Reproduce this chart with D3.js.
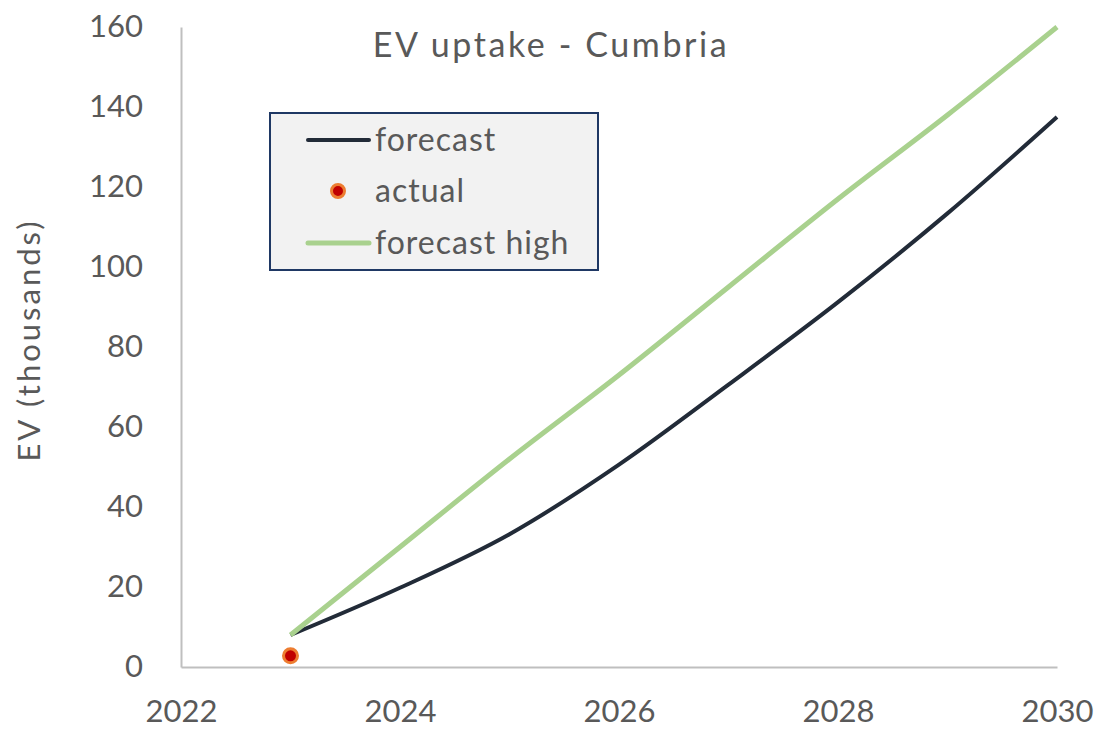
<!DOCTYPE html>
<html><head><meta charset="utf-8">
<script src="https://cdn.jsdelivr.net/npm/d3@7"></script>
<style>body{margin:0;background:#fff}text{font-family:Lato,"Open Sans",sans-serif;fill:#595959}</style>
</head><body><svg id="c" width="1099" height="732"></svg>
<script>
const years = [2023, 2024, 2025, 2026, 2027, 2028, 2029, 2030];
const forecast = [8, 19.8, 33.2, 50.6, 70.6, 91.2, 113.4, 137.5];
const forecastHigh = [8, 30, 52, 73, 95, 117, 138, 160];
const actualYears = [2023];
const actual = [2.8];
const xTicks = [2022, 2024, 2026, 2028, 2030];
const yTicks = [0, 20, 40, 60, 80, 100, 120, 140, 160];

const svg = d3.select("#c");
const x = d3.scaleLinear().domain([2022, 2030]).range([181, 1057]);
const y = d3.scaleLinear().domain([0, 160]).range([667, 27]);

// axes
const xa = svg.append("g").attr("transform", "translate(0,667)")
  .call(d3.axisBottom(x).tickValues(xTicks).tickFormat(d3.format("d")).tickSize(0).tickPadding(33));
xa.select(".domain").attr("stroke", "#bfbfbf").attr("stroke-width", 2);
xa.selectAll("text").style("font-size", "31px").attr("fill", "#595959");

const ya = svg.append("g").attr("transform", "translate(181,0)")
  .call(d3.axisLeft(y).tickValues(yTicks).tickSize(0).tickPadding(38));
ya.select(".domain").attr("stroke", "#bfbfbf").attr("stroke-width", 2);
ya.selectAll("text").style("font-size", "31px").attr("fill", "#595959");

// y title
svg.append("text").attr("transform", "translate(40,340) rotate(-90)")
  .attr("text-anchor", "middle").style("font-size", "31px").style("letter-spacing", "3px").text("EV (thousands)");

// title
svg.append("text").attr("x", 551).attr("y", 57).attr("text-anchor", "middle")
  .style("font-size", "34px").style("letter-spacing", "2.6px").text("EV uptake - Cumbria");

const line = d3.line().x((d, i) => x(years[i])).y(d => y(d)).curve(d3.curveMonotoneX);

svg.append("path").datum(forecast).attr("d", line).attr("fill", "none")
  .attr("stroke", "#222b38").attr("stroke-width", 4);

svg.selectAll(".act").data(actual).enter().append("circle")
  .attr("cx", (d, i) => x(actualYears[i])).attr("cy", d => y(d)).attr("r", 7)
  .attr("fill", "#c00000").attr("stroke", "#ed7d31").attr("stroke-width", 3);

svg.append("path").datum(forecastHigh).attr("d", line).attr("fill", "none")
  .attr("stroke", "#a9d18e").attr("stroke-width", 5);

// legend
const lg = svg.append("g");
lg.append("rect").attr("x", 270).attr("y", 113).attr("width", 328).attr("height", 157)
  .attr("fill", "#f2f2f2").attr("stroke", "#1f3864").attr("stroke-width", 2);
const items = [
  {label: "forecast", type: "line", color: "#222b38", w: 4, cy: 140},
  {label: "actual", type: "dot", cy: 191},
  {label: "forecast high", type: "line", color: "#a9d18e", w: 5, cy: 243}
];
items.forEach(it => {
  if (it.type === "line") {
    lg.append("line").attr("x1", 308).attr("x2", 369).attr("y1", it.cy).attr("y2", it.cy)
      .attr("stroke", it.color).attr("stroke-width", it.w).attr("stroke-linecap", "round");
  } else {
    lg.append("circle").attr("cx", 338).attr("cy", it.cy).attr("r", 6.5)
      .attr("fill", "#c00000").attr("stroke", "#ed7d31").attr("stroke-width", 3);
  }
  lg.append("text").attr("x", 375).attr("y", it.cy).attr("dy", "0.35em")
    .style("font-size", "32px").style("letter-spacing", "1px").text(it.label);
});
</script></body></html>
